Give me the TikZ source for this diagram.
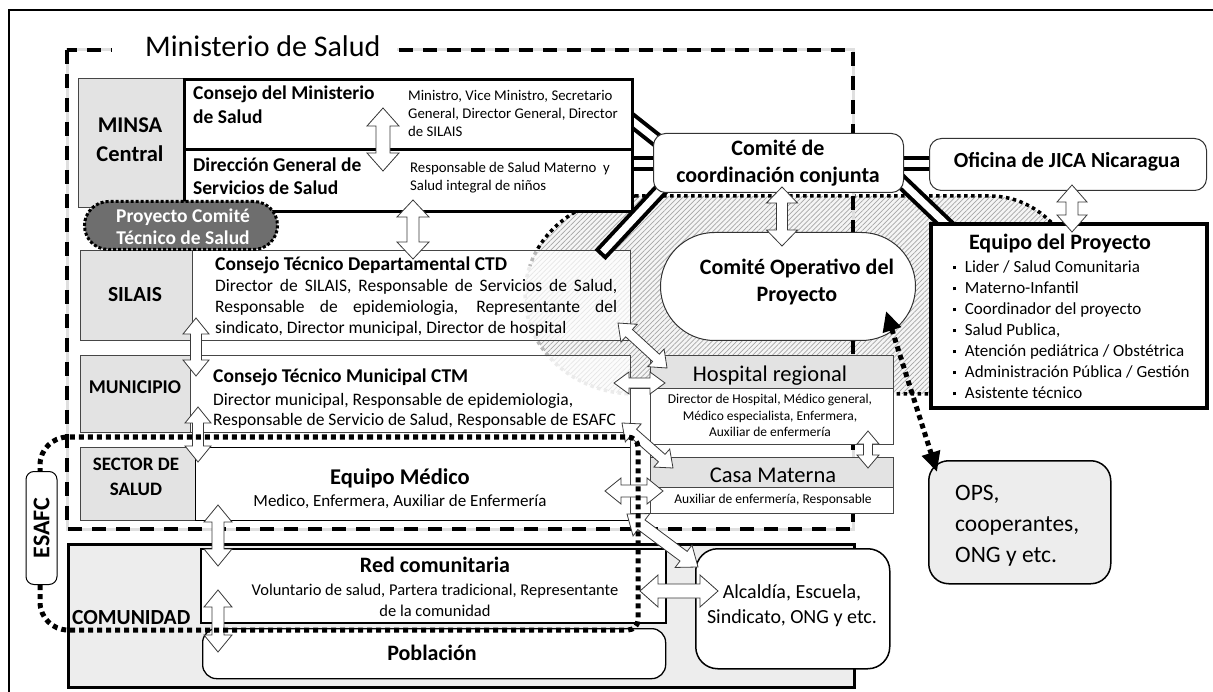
\documentclass[tikz,border=0pt]{standalone}
\usepackage{fontspec}
\setmainfont{Carlito}
\usetikzlibrary{calc,patterns.meta,arrows.meta}
\newcommand{\fsz}[2]{\fontsize{#1pt}{#2pt}\selectfont}
\newcommand{\eqbul}{\raisebox{3.5pt}{\rule{3.2pt}{3.2pt}}\hspace{8.5pt}}
% hollow double arrow: from, to, shaft half width, head half width, head length
\newcommand{\hollowarrow}[5]{%
 \draw[harrow] (#1) -- ($(#1)!#5!(#2)!#4!90:(#2)$) -- ($(#1)!#5!(#2)!#3!90:(#2)$)
  -- ($(#2)!#5!(#1)!#3!-90:(#1)$) -- ($(#2)!#5!(#1)!#4!-90:(#1)$) -- (#2)
  -- ($(#2)!#5!(#1)!#4!90:(#1)$) -- ($(#2)!#5!(#1)!#3!90:(#1)$)
  -- ($(#1)!#5!(#2)!#3!-90:(#2)$) -- ($(#1)!#5!(#2)!#4!-90:(#2)$) -- cycle;}
\tikzset{
  box/.style={draw, inner sep=0pt, anchor=north west},
  greybox/.style={box, fill=gray!22, draw=gray!55!black, line width=0.8pt},
  thinbox/.style={box, fill=white, draw=gray!55!black, line width=0.8pt},
  thickbox/.style={box, fill=white, line width=3pt},
  softbox/.style={box, fill=white, draw=gray!40!black, line width=1pt},
  harrow/.style={fill=white, draw=gray!45!black, line width=0.8pt, line join=miter},
  roadout/.style={line width=15pt, black},
  roadin/.style={line width=7pt, white},
  hdots/.style={line width=3.5pt, dash pattern=on 3.5pt off 3.5pt},
  sqdots/.style={line width=5pt, dash pattern=on 5pt off 4pt},
  lbl/.style={inner sep=0pt},
}
\begin{document}
\begin{tikzpicture}[x=1pt,y=-1pt]
\useasboundingbox (0,0) rectangle (1213,692);
% outer frame (only top and left edges are visible)
\draw[line width=1.2pt] (1213,10) -- (9,10) -- (9,692);

% hatched region (Comite operativo area)
\path[fill=gray!8] (640,196) -- (990,196) arc[start angle=90,end angle=-90,x radius=90pt,y radius=99pt]
  -- (635,394) arc[start angle=-90,end angle=-270,x radius=110pt,y radius=99pt] -- cycle;
\path[pattern={Lines[angle=45,distance=3.5pt,line width=0.7pt]}, pattern color=gray!70]
  (640,196) -- (990,196) arc[start angle=90,end angle=-90,x radius=90pt,y radius=99pt]
  -- (635,394) arc[start angle=-90,end angle=-270,x radius=110pt,y radius=99pt] -- cycle;
\draw[hdots] (635,196) -- (990,196) arc[start angle=90,end angle=-90,x radius=90pt,y radius=99pt] -- (635,394);
\draw[hdots] (635,196) arc[start angle=90,end angle=163,x radius=110pt,y radius=99pt];
\draw[hdots, gray!55] (635,394) arc[start angle=270,end angle=163,x radius=110pt,y radius=99pt];

% Ministerio de Salud dashed frame
\draw[gray!25, line width=3pt] (67,50) rectangle (853,529);
\draw[line width=4pt, dash pattern=on 14pt off 10pt] (67,50) rectangle (853,529);
\fill[white] (112,40) rectangle (397,60);
\node[lbl, anchor=base west, font=\fsz{30}{36}] (tmin) at (145,57) {Ministerio de Salud};

% comunidad area
\node[box, line width=3pt, fill=gray!14, minimum width=786pt, minimum height=143pt] (comunidad) at (67,543) {};

% left column boxes
\node[greybox, minimum width=105pt, minimum height=129pt] (minsa) at (78,78) {};
\node[greybox, minimum width=112pt, minimum height=90pt] (silais) at (80,250) {};
\node[thinbox, fill opacity=0.72, minimum width=438pt, minimum height=90pt] (ctd) at (192,250) {};
\node[greybox, minimum width=110pt, minimum height=77pt] (muni) at (80,355) {};
\node[thinbox, fill opacity=0.72, minimum width=440pt, minimum height=77pt] (ctm) at (190,355) {};
\node[greybox, minimum width=115pt, minimum height=73pt] (sector) at (80,447) {};
\node[thinbox, draw=black, line width=1.2pt, minimum width=437pt, minimum height=73pt] (medico) at (195,447) {};
\node[thinbox, minimum width=20pt, minimum height=125pt] (strip) at (630,388) {};

% roads (double lines)
\coordinate (r1a) at (620,111); \coordinate (r1b) at (668,149);
\coordinate (r2a) at (625,164); \coordinate (r2b) at (662,164);
\coordinate (r3a) at (668,182); \coordinate (r3b) at (600,255);
\coordinate (r4a) at (895,164); \coordinate (r4b) at (935,164);
\coordinate (r5a) at (885,166); \coordinate (r5b) at (950,228);
\foreach \a/\b in {r1a/r1b, r2a/r2b, r4a/r4b, r5a/r5b} {
  \draw[roadout] (\a) -- (\b); \draw[roadin] (\a) -- (\b);
}
\draw[roadout] (r3a) -- (r3b);
\draw[roadin, shorten >=4pt] (r3a) -- (r3b);

% upper boxes
\node[thickbox, minimum width=448pt, minimum height=70pt] (consejo) at (183,78) {};
\node[thickbox, minimum width=448pt, minimum height=62pt] (direccion) at (183,148) {};
\node[softbox, rounded corners=12pt, minimum width=250pt, minimum height=59pt] (coord) at (653,133) {};
\node[softbox, rounded corners=12pt, minimum width=277pt, minimum height=52pt] (jica) at (929,138) {};
\node[box, fill=white, line width=4pt, minimum width=276pt, minimum height=184pt] (equipo) at (929,222) {};
\node[softbox, rounded corners=54pt, minimum width=255pt, minimum height=108pt] (operativo) at (660,232) {};

% right column boxes
\node[greybox, minimum width=243pt, minimum height=33pt] (hosph) at (650,355) {};
\node[thinbox, minimum width=243pt, minimum height=56pt] (hospb) at (650,388) {};
\node[greybox, minimum width=243pt, minimum height=30pt] (casah) at (650,457) {};
\node[thinbox, minimum width=243pt, minimum height=26pt] (casab) at (650,487) {};

% community boxes
\node[box, fill=white, line width=1.8pt, minimum width=465pt, minimum height=74pt] (red) at (200,548) {};
\node[box, fill=white, line width=1.3pt, rounded corners=14pt, minimum width=463pt, minimum height=50pt] (poblacion) at (202,628) {};
\node[box, fill=white, line width=1.5pt, rounded corners=22pt, minimum width=194pt, minimum height=120pt] (alcaldia) at (695,548) {};
\node[box, fill=gray!14, line width=1.5pt, rounded corners=20pt, minimum width=182pt, minimum height=123pt] (ops) at (928,460) {};

% proyecto comite tecnico pill
\node[box, fill=black!57, draw=black, line width=3pt, dash pattern=on 3pt off 2pt, rounded corners=24pt, minimum width=193pt, minimum height=48pt] (pcts) at (83,200) {};

% hollow double arrows
\coordinate (a1s) at (383,108); \coordinate (a1e) at (383,171);
\coordinate (a2s) at (413,200); \coordinate (a2e) at (413,259);
\coordinate (a3s) at (196,318); \coordinate (a3e) at (196,376);
\coordinate (a4s) at (198,407); \coordinate (a4e) at (198,462);
\coordinate (a5s) at (218,505); \coordinate (a5e) at (218,566);
\coordinate (a6s) at (218,590); \coordinate (a6e) at (218,652);
\coordinate (a7s) at (782,187); \coordinate (a7e) at (782,246);
\coordinate (a8s) at (1072,185); \coordinate (a8e) at (1072,232);
\coordinate (a9s) at (868,431); \coordinate (a9e) at (868,468);
\coordinate (d1s) at (618,323); \coordinate (d1e) at (667,368);
\coordinate (d2s) at (614,383); \coordinate (d2e) at (665,383);
\coordinate (d3s) at (622,423); \coordinate (d3e) at (673,468);
\coordinate (d4s) at (605,491); \coordinate (d4e) at (663,491);
\coordinate (d5s) at (627,514); \coordinate (d5e) at (698,567);
\coordinate (d6s) at (640,591); \coordinate (d6e) at (718,591);
\hollowarrow{a1s}{a1e}{7pt}{16pt}{18pt}
\hollowarrow{a2s}{a2e}{6pt}{16pt}{17pt}
\hollowarrow{a3s}{a3e}{5.5pt}{13pt}{16pt}
\hollowarrow{a4s}{a4e}{5.5pt}{13pt}{16pt}
\hollowarrow{a5s}{a5e}{6pt}{14pt}{17pt}
\hollowarrow{a6s}{a6e}{6pt}{14pt}{17pt}
\hollowarrow{a7s}{a7e}{5.5pt}{15.5pt}{16pt}
\hollowarrow{a8s}{a8e}{6pt}{15pt}{17pt}
\hollowarrow{a9s}{a9e}{4.5pt}{11pt}{13pt}
\hollowarrow{d1s}{d1e}{5pt}{12pt}{15pt}
\hollowarrow{d2s}{d2e}{5pt}{11pt}{15pt}
\hollowarrow{d3s}{d3e}{5pt}{12pt}{15pt}
\hollowarrow{d4s}{d4e}{6pt}{13pt}{16pt}
\hollowarrow{d5s}{d5e}{6pt}{14pt}{18pt}
\hollowarrow{d6s}{d6e}{7pt}{16pt}{18pt}

% ESAFC dotted outline and label
\draw[sqdots] (340,437) [rounded corners=10pt] -- (638,437) -- (638,630) [rounded corners=28pt] -- (40,630) -- (40,437) -- cycle;
\node[rotate=90, draw, fill=white, line width=1pt, rounded corners=8pt, minimum width=113pt, minimum height=31pt, inner sep=0pt, font=\fsz{24}{24}\bfseries] (esafc) at (41.5,528) {ESAFC};

% dotted arrow to OPS
\coordinate (coparr) at (886,311);
\coordinate (opsarr) at (937,472);
\draw[sqdots, {Triangle[length=20pt,width=18pt]}-{Triangle[length=20pt,width=18pt]}] (opsarr) -- (coparr);

% texts (base anchor = baseline of the last line)
\node[lbl, anchor=base, align=center, font=\fsz{22.5}{29}\bfseries] (tminsa) at (130,162) {MINSA\\Central};
\node[lbl, anchor=base west, align=left, font=\fsz{19.5}{24}\bfseries] (tconsejo) at (193,124) {Consejo del Ministerio\\de Salud};
\node[lbl, anchor=base west, align=left, font=\fsz{14.8}{18}] (tministro) at (408,137) {Ministro, Vice Ministro, Secretario\\General, Director General, Director\\de SILAIS};
\node[lbl, anchor=base west, align=left, font=\fsz{19.5}{23}\bfseries] (tdir) at (193,195) {Dirección General de\\Servicios de Salud};
\node[lbl, anchor=base west, align=left, font=\fsz{14.8}{18}] (tresp) at (410,191) {Responsable de Salud Materno~~y\\Salud integral de niños};
\node[lbl, anchor=base, align=center, text=white, font=\fsz{19.5}{22}\bfseries] (tpcts) at (183,245) {Proyecto Comité\\Técnico de Salud};
\node[lbl, anchor=base, font=\fsz{21.5}{26}\bfseries] (tsilais) at (135,302) {SILAIS};
\node[lbl, anchor=base west, font=\fsz{19.5}{23}\bfseries] (tctd) at (215,271) {Consejo Técnico Departamental CTD};
\node[lbl, anchor=base west, align=left, font=\fsz{17.5}{21}] (tctdb) at (215,334) {\makebox[402pt][s]{Director de SILAIS, Responsable de Servicios de Salud,}\\\makebox[402pt][s]{Responsable de epidemiologia, Representante del}\\sindicato, Director municipal, Director de hospital};
\node[lbl, anchor=base, font=\fsz{19.5}{24}\bfseries] (tmuni) at (135,394) {MUNICIPIO};
\node[lbl, anchor=base west, font=\fsz{19.5}{23}\bfseries] (tctm) at (213,383) {Consejo Técnico Municipal CTM};
\node[lbl, anchor=base west, align=left, font=\fsz{17.5}{20}] (tctmb) at (213,425) {Director municipal, Responsable de epidemiologia,\\Responsable de Servicio de Salud, Responsable de ESAFC};
\node[lbl, anchor=base, align=center, font=\fsz{19}{25}\bfseries] (tsector) at (136,495) {SECTOR DE\\SALUD};
\node[lbl, anchor=base, font=\fsz{22.5}{27}\bfseries] (tmedico) at (400,484) {Equipo Médico};
\node[lbl, anchor=base, font=\fsz{17}{20}] (tmedicob) at (400,506) {Medico, Enfermera, Auxiliar de Enfermería};
\node[lbl, anchor=base west, font=\fsz{21.5}{26}\bfseries] (tcomun) at (72,624) {COMUNIDAD};
\node[lbl, anchor=base, font=\fsz{22}{26}\bfseries] (tred) at (435,572) {Red comunitaria};
\node[lbl, anchor=base, align=center, font=\fsz{16.5}{21}] (tredb) at (435,616) {Voluntario de salud, Partera tradicional, Representante\\de la comunidad};
\node[lbl, anchor=base, font=\fsz{22}{26}\bfseries] (tpob) at (432,660) {Población};
\node[lbl, anchor=base, align=center, font=\fsz{20}{25}] (talc) at (792,623) {Alcaldía, Escuela,\\Sindicato, ONG y etc.};
\node[lbl, anchor=base, font=\fsz{22.5}{26}] (thosp) at (770,382) {Hospital regional};
\node[lbl, anchor=base, align=center, font=\fsz{13.5}{17}] (thospb) at (770,437) {Director de Hospital, Médico general,\\Médico especialista, Enfermera,\\Auxiliar de enfermería};
\node[lbl, anchor=base, font=\fsz{22.5}{26}] (tcasa) at (773,482) {Casa Materna};
\node[lbl, anchor=base, font=\fsz{13.5}{17}] (tcasab) at (773,503) {Auxiliar de enfermería, Responsable};
\node[lbl, anchor=base, align=center, font=\fsz{22}{27}\bfseries] (tcoord) at (778,183) {Comité de\\coordinación conjunta};
\node[lbl, anchor=base, font=\fsz{21.5}{26}\bfseries] (tjica) at (1067,168) {Oficina de JICA Nicaragua};
\node[lbl, anchor=base, align=center, font=\fsz{22}{27}\bfseries] (toper) at (797,302) {Comité Operativo del\\Proyecto};
\node[lbl, anchor=base, font=\fsz{22}{26}\bfseries] (tequipo) at (1060,250) {Equipo del Proyecto};
\node[lbl, anchor=base west, align=left, font=\fsz{17}{21}] (tequipob) at (953,399) {\eqbul Lider / Salud Comunitaria\\\eqbul Materno-Infantil\\\eqbul Coordinador del proyecto\\\eqbul Salud Publica,\\\eqbul Atención pediátrica / Obstétrica\\\eqbul Administración Pública / Gestión\\\eqbul Asistente técnico};
\node[lbl, anchor=base west, align=left, font=\fsz{23.5}{31}] (tops) at (955,562) {OPS,\\cooperantes,\\ONG y etc.};
\end{tikzpicture}
\end{document}
